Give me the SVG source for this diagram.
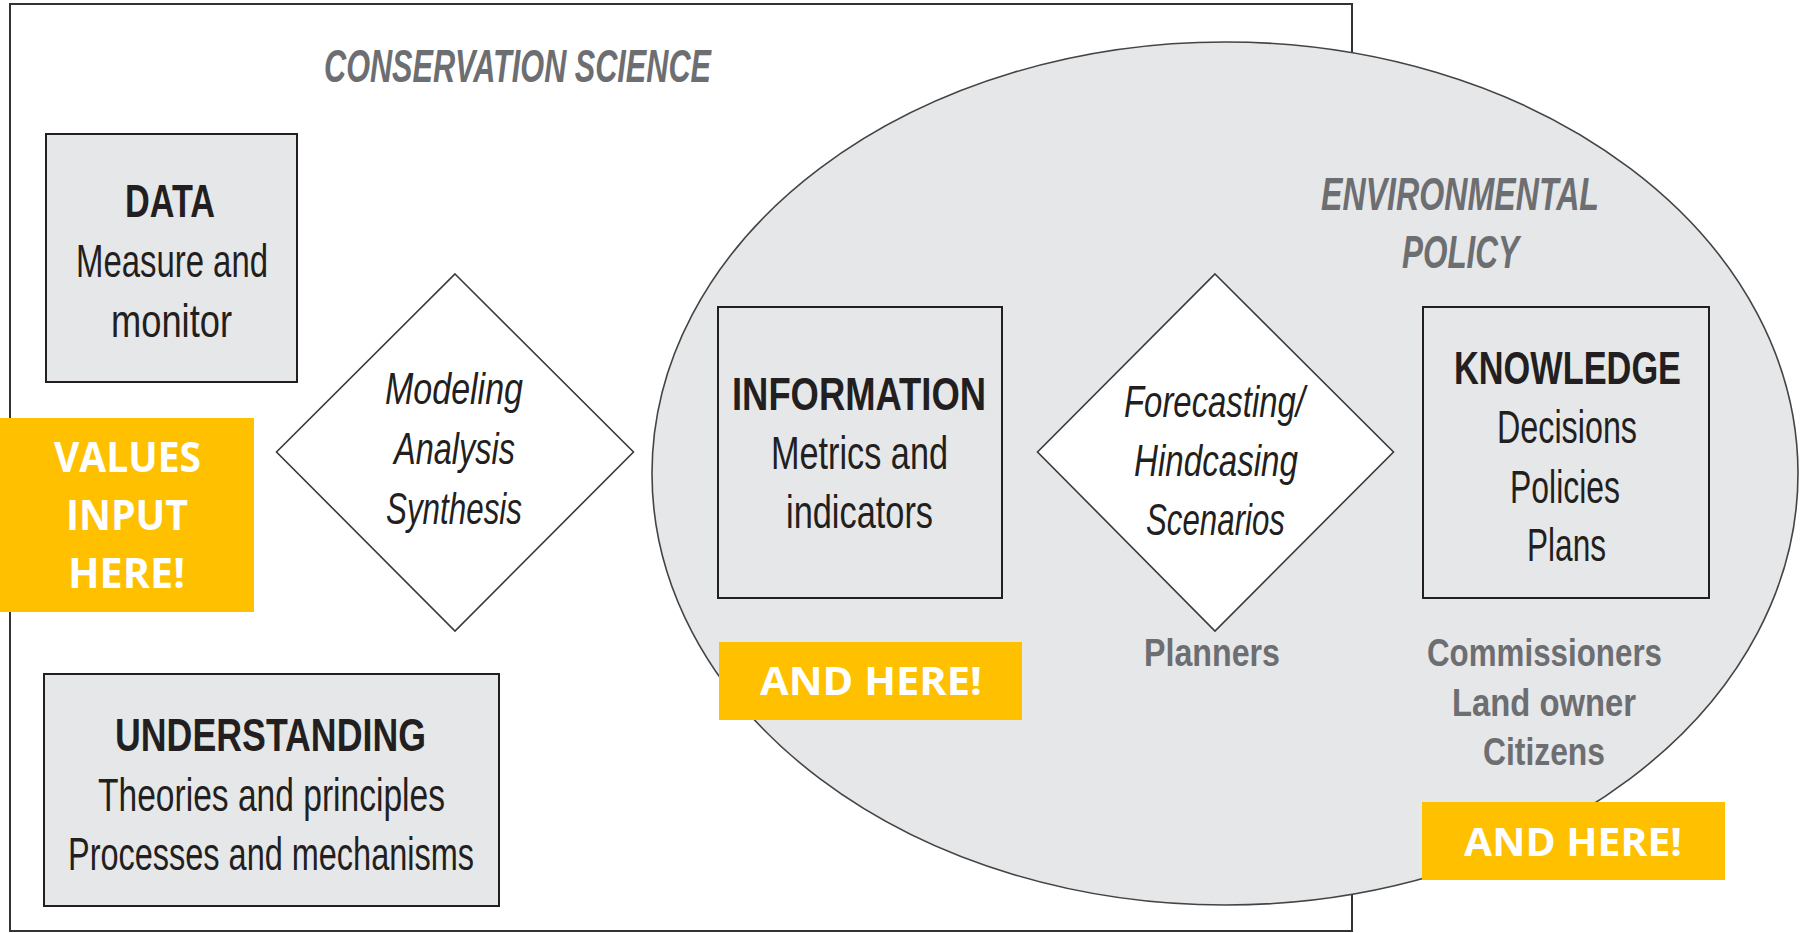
<svg xmlns="http://www.w3.org/2000/svg" width="1801" height="933" viewBox="0 0 1801 933">
<style>
.box{fill:#e6e7e8;stroke:#231f20;stroke-width:2}
.dia{fill:#ffffff;stroke:#3a3a3a;stroke-width:1.6}
.tag{fill:#ffc000}
.t{font-family:"Liberation Sans",Arial,sans-serif;fill:#231f20}
.h{font-weight:bold;font-size:47px}
.b{font-size:46px}
.i{font-style:italic;font-size:45px}
.g{font-family:"Liberation Sans",Arial,sans-serif;fill:#6d6e71;font-weight:bold}
.gi{font-style:italic;font-size:47px}
.gs{font-size:39px}
.w{font-family:"Open Sans","Liberation Sans",sans-serif;fill:#ffffff;font-weight:bold}
</style>
<rect x="0" y="0" width="1801" height="933" fill="#ffffff"/>
<g id="conservation-science">
<rect x="10" y="4" width="1342" height="927" fill="#ffffff" stroke="#333333" stroke-width="2"/>
<text class="g gi" x="324" y="82" textLength="387" lengthAdjust="spacingAndGlyphs">CONSERVATION SCIENCE</text>
</g>
<g id="environmental-policy">
<ellipse cx="1225" cy="473.5" rx="573" ry="431.5" fill="#e6e7e8" stroke="#444444" stroke-width="1.6"/>
<text class="g gi" x="1321" y="210" textLength="278" lengthAdjust="spacingAndGlyphs">ENVIRONMENTAL</text>
<text class="g gi" x="1402" y="268" textLength="117" lengthAdjust="spacingAndGlyphs">POLICY</text>
</g>
<g id="connectors"></g>
<g id="data">
<rect class="box" x="46" y="134" width="251" height="248"/>
<text class="t h" x="125" y="217" textLength="90" lengthAdjust="spacingAndGlyphs">DATA</text>
<text class="t b" x="76" y="277" textLength="192" lengthAdjust="spacingAndGlyphs">Measure and</text>
<text class="t b" x="111" y="337" textLength="121" lengthAdjust="spacingAndGlyphs">monitor</text>
</g>
<g id="modeling">
<polygon class="dia" points="455,274 633.5,452 455,631 276.5,452"/>
<text class="t i" x="385" y="404" textLength="138" lengthAdjust="spacingAndGlyphs">Modeling</text>
<text class="t i" x="394" y="464" textLength="121" lengthAdjust="spacingAndGlyphs">Analysis</text>
<text class="t i" x="386" y="524" textLength="136" lengthAdjust="spacingAndGlyphs">Synthesis</text>
</g>
<g id="values">
<rect class="tag" x="0" y="418" width="254" height="194"/>
<text class="w" font-size="42" x="54" y="472" textLength="147" lengthAdjust="spacingAndGlyphs">VALUES</text>
<text class="w" font-size="42" x="66" y="530" textLength="122" lengthAdjust="spacingAndGlyphs">INPUT</text>
<text class="w" font-size="42" x="68" y="588" textLength="117" lengthAdjust="spacingAndGlyphs">HERE!</text>
</g>
<g id="understanding">
<rect class="box" x="44" y="674" width="455" height="232"/>
<text class="t h" x="115" y="751" textLength="311" lengthAdjust="spacingAndGlyphs">UNDERSTANDING</text>
<text class="t b" x="98" y="811" textLength="347" lengthAdjust="spacingAndGlyphs">Theories and principles</text>
<text class="t b" x="68" y="870" textLength="406" lengthAdjust="spacingAndGlyphs">Processes and mechanisms</text>
</g>
<g id="information">
<rect class="box" x="718" y="307" width="284" height="291"/>
<text class="t h" font-size="51" x="732" y="410" textLength="254" lengthAdjust="spacingAndGlyphs">INFORMATION</text>
<text class="t b" x="771" y="469" textLength="177" lengthAdjust="spacingAndGlyphs">Metrics and</text>
<text class="t b" x="786" y="528" textLength="147" lengthAdjust="spacingAndGlyphs">indicators</text>
</g>
<g id="and-here-1">
<rect class="tag" x="719" y="642" width="303" height="78"/>
<text class="w" font-size="40" x="760" y="695" textLength="222" lengthAdjust="spacingAndGlyphs">AND HERE!</text>
</g>
<g id="forecasting">
<polygon class="dia" points="1215,274 1393.5,452 1215,631 1037.5,452"/>
<text class="t i" x="1124" y="417" textLength="181" lengthAdjust="spacingAndGlyphs">Forecasting/</text>
<text class="t i" x="1134" y="476" textLength="164" lengthAdjust="spacingAndGlyphs">Hindcasing</text>
<text class="t i" x="1146" y="535" textLength="139" lengthAdjust="spacingAndGlyphs">Scenarios</text>
</g>
<g id="planners">
<text class="g gs" x="1144" y="666" textLength="136" lengthAdjust="spacingAndGlyphs">Planners</text>
</g>
<g id="knowledge">
<rect class="box" x="1423" y="307" width="286" height="291"/>
<text class="t h" font-size="50" x="1454" y="384" textLength="227" lengthAdjust="spacingAndGlyphs">KNOWLEDGE</text>
<text class="t b" x="1497" y="443" textLength="140" lengthAdjust="spacingAndGlyphs">Decisions</text>
<text class="t b" x="1510" y="503" textLength="110" lengthAdjust="spacingAndGlyphs">Policies</text>
<text class="t b" x="1527" y="561" textLength="79" lengthAdjust="spacingAndGlyphs">Plans</text>
</g>
<g id="stakeholders">
<text class="g gs" x="1427" y="666" textLength="235" lengthAdjust="spacingAndGlyphs">Commissioners</text>
<text class="g gs" x="1452" y="716" textLength="184" lengthAdjust="spacingAndGlyphs">Land owner</text>
<text class="g gs" x="1483" y="765" textLength="122" lengthAdjust="spacingAndGlyphs">Citizens</text>
</g>
<g id="and-here-2">
<rect class="tag" x="1422" y="802" width="303" height="78"/>
<text class="w" font-size="40" x="1464" y="856" textLength="218" lengthAdjust="spacingAndGlyphs">AND HERE!</text>
</g>
</svg>
